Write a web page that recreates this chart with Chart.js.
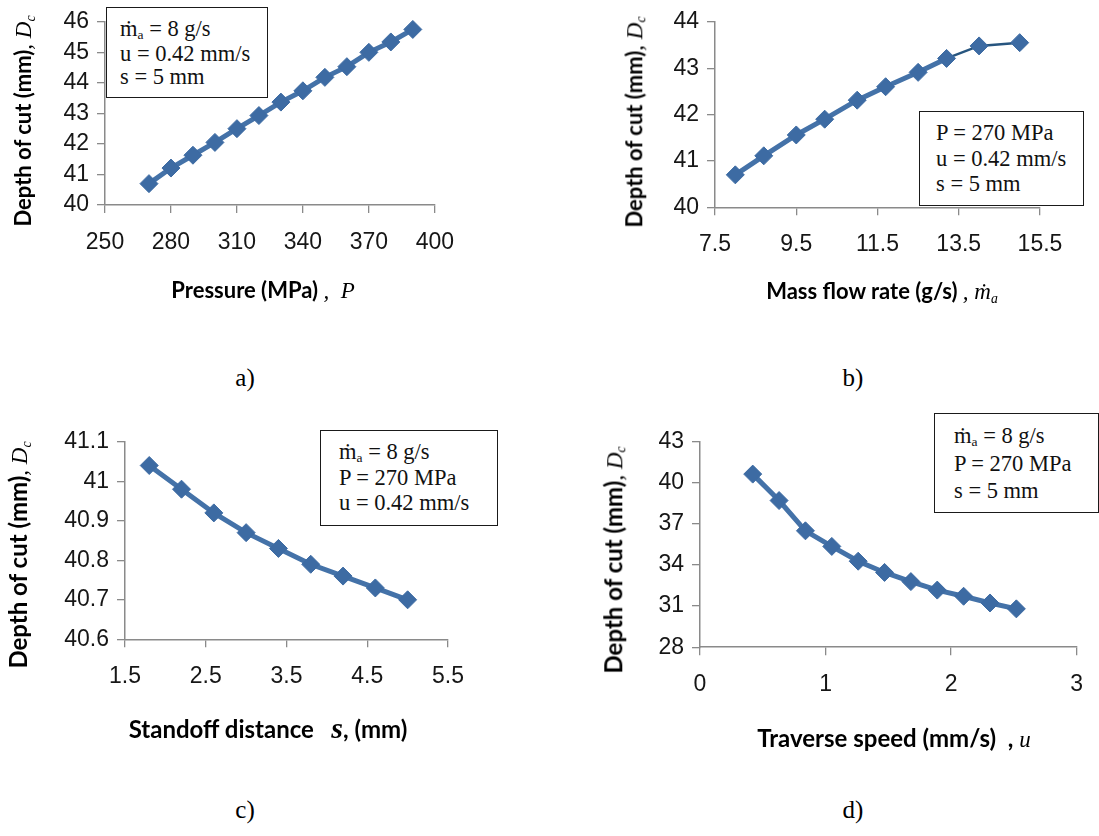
<!DOCTYPE html>
<html>
<head>
<meta charset="utf-8">
<script src="https://cdn.jsdelivr.net/npm/chart.js@4.4.1/dist/chart.umd.min.js"></script>
<style>
body { margin:0; background:#fff; width:1099px; height:836px; position:relative; overflow:hidden; }
canvas { position:absolute; }
.tit { position:absolute; white-space:nowrap; font-family:Lato, sans-serif; font-weight:bold; font-size:22px; color:#000; transform:translate(-50%,-50%); }
.big { font-size:24px; }
.ytit { transform:translate(-50%,-50%) rotate(-90deg); }
.sym { font-family:"Liberation Serif", serif; font-style:italic; font-weight:normal; font-size:23px; }
.box { position:absolute; border:1.5px solid #1a1a1a; background:#fff; box-sizing:border-box; }
.bl { position:absolute; font-family:"Liberation Serif", serif; font-size:22.5px; line-height:22.5px; white-space:nowrap; color:#111; }
.bl sub, .sym sub { font-size:60%; vertical-align:-0.25em; }
.cap { position:absolute; font-family:"Liberation Serif", serif; font-size:25px; transform:translate(-50%,-50%); }
</style>
</head>
<body>
<canvas id="ca" width="470" height="320" style="left:0;top:0"></canvas>
<canvas id="cb" width="540" height="320" style="left:540px;top:0"></canvas>
<canvas id="cc" width="480" height="340" style="left:0;top:420px"></canvas>
<canvas id="cd" width="559" height="340" style="left:540px;top:420px"></canvas>

<!-- axis titles -->
<div class="tit ytit" style="left:24px;top:121px">Depth of cut (mm)<span class="sym">, D<sub>c</sub></span></div>
<div class="tit" style="left:263px;top:290px">Pressure (MPa) <span class="sym">,&nbsp; P</span></div>
<div class="tit ytit" style="left:635px;top:122px">Depth of cut (mm)<span class="sym">, D<sub>c</sub></span></div>
<div class="tit" style="left:882px;top:292px">Mass flow rate (g/s) <span class="sym">, ṁ<sub>a</sub></span></div>
<div class="tit big ytit" style="left:19px;top:555px">Depth of cut (mm)<span class="sym">, D<sub>c</sub></span></div>
<div class="tit big" style="left:268px;top:728px">Standoff distance &nbsp;&nbsp;<span class="sym" style="font-weight:bold;font-size:30px">s</span>, (mm)</div>
<div class="tit big ytit" style="left:614px;top:560px">Depth of cut (mm)<span class="sym">, D<sub>c</sub></span></div>
<div class="tit big" style="left:894px;top:738px">Traverse speed (mm/s) &nbsp;, <span class="sym">u</span></div>

<!-- parameter boxes -->
<div class="box" style="left:106px;top:7px;width:162px;height:91px"></div>
<div class="bl" style="left:120px;top:18px">ṁ<sub>a</sub> = 8 g/s</div>
<div class="bl" style="left:120px;top:43px">u = 0.42 mm/s</div>
<div class="bl" style="left:120px;top:66px">s = 5 mm</div>

<div class="box" style="left:919px;top:111px;width:165px;height:95px"></div>
<div class="bl" style="left:936px;top:122px">P = 270 MPa</div>
<div class="bl" style="left:936px;top:148px">u = 0.42 mm/s</div>
<div class="bl" style="left:936px;top:173px">s = 5 mm</div>

<div class="box" style="left:320px;top:430px;width:178px;height:96px"></div>
<div class="bl" style="left:339px;top:441px">ṁ<sub>a</sub> = 8 g/s</div>
<div class="bl" style="left:339px;top:467px">P = 270 MPa</div>
<div class="bl" style="left:339px;top:492px">u = 0.42 mm/s</div>

<div class="box" style="left:934px;top:413px;width:165px;height:100px"></div>
<div class="bl" style="left:954px;top:425px">ṁ<sub>a</sub> = 8 g/s</div>
<div class="bl" style="left:954px;top:453px">P = 270 MPa</div>
<div class="bl" style="left:954px;top:480px">s = 5 mm</div>

<!-- captions -->
<div class="cap" style="left:245px;top:378px">a)</div>
<div class="cap" style="left:853px;top:378px">b)</div>
<div class="cap" style="left:245px;top:810px">c)</div>
<div class="cap" style="left:853px;top:810px">d)</div>

<script>
// a) pressure
const pressure = [270, 280, 290, 300, 310, 320, 330, 340, 350, 360, 370, 380, 390];
const depthP = [40.70, 41.21, 41.63, 42.05, 42.50, 42.93, 43.37, 43.74, 44.18, 44.53, 45.00, 45.34, 45.75];
const xTicksA = [250, 280, 310, 340, 370, 400];
const yTicksA = [40, 41, 42, 43, 44, 45, 46];

// b) mass flow rate
const massFlow = [8, 8.7, 9.5, 10.2, 11, 11.7, 12.5, 13.2, 14, 15];
const depthM = [40.70, 41.11, 41.56, 41.90, 42.31, 42.60, 42.91, 43.21, 43.48, 43.55];
const xTicksB = [7.5, 9.5, 11.5, 13.5, 15.5];
const yTicksB = [40, 41, 42, 43, 44];

// c) standoff distance
const standoff = [1.8, 2.2, 2.6, 3.0, 3.4, 3.8, 4.2, 4.6, 5.0];
const depthS = [41.04, 40.98, 40.92, 40.87, 40.83, 40.79, 40.76, 40.73, 40.70];
const xTicksC = [1.5, 2.5, 3.5, 4.5, 5.5];
const yTicksC = [40.6, 40.7, 40.8, 40.9, 41, 41.1];

// d) traverse speed
const speed = [0.42, 0.63, 0.84, 1.05, 1.26, 1.47, 1.68, 1.89, 2.1, 2.31, 2.52];
const depthU = [40.64, 38.71, 36.50, 35.36, 34.28, 33.46, 32.79, 32.17, 31.72, 31.23, 30.80];
const xTicksD = [0, 1, 2, 3];
const yTicksD = [28, 31, 34, 37, 40, 43];

const lineColor = '#4472a8';
const axisColor = '#8a8a8a';

function axis(ticks, pad, fit) {
    return {
        type: 'linear',
        min: ticks[0],
        max: ticks[ticks.length - 1],
        afterBuildTicks: s => { s.ticks = ticks.map(v => ({ value: v })); },
        afterFit: fit,
        grid: { display: true, drawOnChartArea: false, drawTicks: true, tickLength: 8, color: axisColor, lineWidth: 1.3 },
        border: { display: true, color: axisColor, width: 1.5 },
        ticks: {
            color: '#161616',
            font: { family: '"Liberation Sans", Arial, sans-serif', size: 23 },
            padding: pad,
            maxRotation: 0,
            autoSkip: false,
            callback: v => String(v)
        }
    };
}

// geo: y-axis width, top padding, right padding, x-axis height
function drawPanel(id, xs, ys, xTicks, yTicks, geo, segment) {
    const pts = xs.map((x, i) => ({ x: x, y: ys[i] }));
    new Chart(document.getElementById(id), {
        type: 'line',
        data: {
            datasets: [{
                data: pts,
                borderColor: lineColor,
                backgroundColor: '#3d6ba3',
                borderWidth: 5,
                pointStyle: 'rectRot',
                pointRadius: 9,
                pointBorderWidth: 1,
                pointBorderColor: '#3d6ba3',
                pointBackgroundColor: '#3d6ba3',
                tension: 0,
                clip: false,
                segment: segment || {}
            }]
        },
        options: {
            responsive: false,
            animation: false,
            devicePixelRatio: 1,
            layout: { padding: { top: geo[1], right: geo[2], left: 0, bottom: 0 } },
            plugins: { legend: { display: false }, tooltip: { enabled: false } },
            scales: {
                x: axis(xTicks, 16, s => { s.height = geo[3]; }),
                y: axis(yTicks, 8, s => { s.width = geo[0]; })
            }
        }
    });
}

drawPanel('ca', pressure, depthP, xTicksA, yTicksA, [105, 15, 20, 115]);
drawPanel('cb', massFlow, depthM, xTicksB, yTicksB, [175, 15.5, 40, 112.7], {
    // last segments are drawn thinner and darker in the original
    borderWidth: ctx => ctx.p0DataIndex >= 7 ? 2.5 : undefined,
    borderColor: ctx => ctx.p0DataIndex >= 7 ? '#27557f' : undefined
});
drawPanel('cc', standoff, depthS, xTicksC, yTicksC, [125, 19.3, 21, 120.7]);
drawPanel('cd', speed, depthU, xTicksD, yTicksD, [160, 19.2, 20, 112.8]);
</script>
</body>
</html>
